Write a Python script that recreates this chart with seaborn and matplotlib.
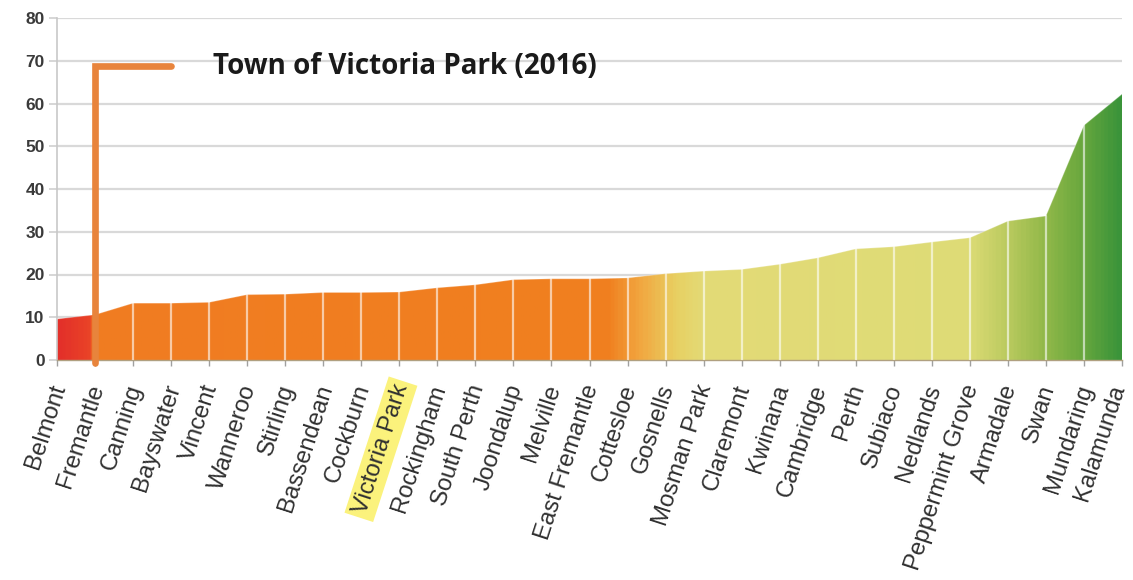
import numpy as np
import pandas as pd
import matplotlib
matplotlib.use("Agg")
import matplotlib.pyplot as plt
import matplotlib.transforms as mtransforms
import seaborn as sns
from matplotlib.colors import LinearSegmentedColormap

# Datos: LGAs ordenados de menor a mayor valor
lgas = ["Belmont", "Fremantle", "Canning", "Bayswater", "Vincent", "Wanneroo",
        "Stirling", "Bassendean", "Cockburn", "Victoria Park", "Rockingham",
        "South Perth", "Joondalup", "Melville", "East Fremantle", "Cottesloe",
        "Gosnells", "Mosman Park", "Claremont", "Kwinana", "Cambridge", "Perth",
        "Subiaco", "Nedlands", "Peppermint Grove", "Armadale", "Swan",
        "Mundaring", "Kalamunda"]
values = [9.6, 10.6, 13.3, 13.3, 13.5, 15.3, 15.4, 15.8, 15.8, 15.9, 16.9,
          17.6, 18.8, 19.0, 19.0, 19.2, 20.2, 20.8, 21.2, 22.4, 23.9, 26.0,
          26.5, 27.6, 28.6, 32.5, 33.7, 54.9, 62.2]
highlight = "Victoria Park"
legend_label = "Town of Victoria Park (2016)"

df = pd.DataFrame({"lga": lgas, "valor": values, "pos": np.arange(len(lgas))})

# Estilo
sns.set_theme(style="white")
plt.rcParams['font.family'] = ['Liberation Sans', 'DejaVu Sans']

fig = plt.figure(figsize=(11.33, 5.8), dpi=100)
ax = fig.add_axes([57 / 1133, 1 - 360 / 580, (1122 - 57) / 1133, (360 - 18) / 580])

n = len(lgas) - 1
ax.set_xlim(0, n)
ax.set_ylim(0, 80)

# Rejilla horizontal
for yv in range(10, 81, 10):
    ax.axhline(yv, color="#d9d9d9", lw=1.6, zorder=0)

# Línea superior con seaborn
sns.lineplot(data=df, x="pos", y="valor", color="white", alpha=0.25, lw=0.8,
             ax=ax, zorder=3)

# Relleno con degradado horizontal (rojo -> naranja -> amarillo -> verde)
stops = [
    (0.00, "#e3302a"), (0.80 / n, "#ea4427"), (0.95 / n, "#f07c22"),
    (14.5 / n, "#f0801f"), (15.3 / n, "#f2a43e"), (16.3 / n, "#e8d062"),
    (17.0 / n, "#e3da76"), (24.0 / n, "#dedc76"), (25.0 / n, "#bccb60"),
    (26.0 / n, "#93b94a"), (27.0 / n, "#6aa83e"), (1.00, "#3b943a"),
]
cmap = LinearSegmentedColormap.from_list("grad", stops)
grad = np.linspace(0, 1, 600).reshape(1, -1)
img = ax.imshow(grad, cmap=cmap, aspect="auto", extent=[0, n, 0, 80],
                origin="lower", zorder=2)
poly = ax.fill_between(df["pos"], df["valor"], 0, color="none", lw=0)
img.set_clip_path(poly.get_paths()[0], transform=ax.transData)

# Separadores blancos en cada categoría
for p, v in zip(df["pos"][1:-1], df["valor"][1:-1]):
    ax.plot([p, p], [0, v], color="white", alpha=0.6, lw=1.6, zorder=4)

# Marcador "Town of Victoria Park"
ax.plot([1, 1, 3.0], [-0.6, 68.8, 68.8], color="#e8843c", lw=4.8,
        solid_capstyle="round", solid_joinstyle="miter", zorder=6, clip_on=False)
ax.text(4.1, 68.6, legend_label, fontsize=20, fontweight="bold",
        family=["Open Sans", "DejaVu Sans"], color="#1a1a1a", va="center",
        ha="left", zorder=7)

# Ejes
ax.set_xticks(df["pos"])
ax.set_xticklabels(lgas, rotation=72, ha="right", va="center",
                   rotation_mode="anchor", fontsize=17.2, color="#303030")
ax.set_yticks(range(0, 81, 10))
ax.set_yticklabels([str(t) for t in range(0, 81, 10)], fontsize=12.5,
                   fontweight="bold", color="#3a3a3a")
ax.tick_params(axis="x", length=4, color="#a0a0a0", width=1, pad=14, bottom=True)
ax.tick_params(axis="y", length=6, color="#d0d0d0", width=1.2, pad=3, left=True)
ax.set_xlabel("")
ax.set_ylabel("")

# Pequeño desplazamiento de las etiquetas (la última se mantiene dentro del lienzo)
labels = ax.get_xticklabels()
for i, lab in enumerate(labels):
    dx = 2.5 if i < len(labels) - 1 else -3.0
    lab.set_transform(lab.get_transform()
                      + mtransforms.ScaledTranslation(dx / 100, 0, fig.dpi_scale_trans))
    if lab.get_text() == highlight:
        lab.set_bbox(dict(facecolor="#fbf27c", edgecolor="none", pad=3))

sns.despine(ax=ax, top=True, right=True)
ax.spines["left"].set_color("#c8c8c8")
ax.spines["left"].set_linewidth(1.2)
ax.spines["bottom"].set_color("#b0a080")
ax.spines["bottom"].set_linewidth(1.0)

fig.savefig("out.png", dpi=100, facecolor="white")
